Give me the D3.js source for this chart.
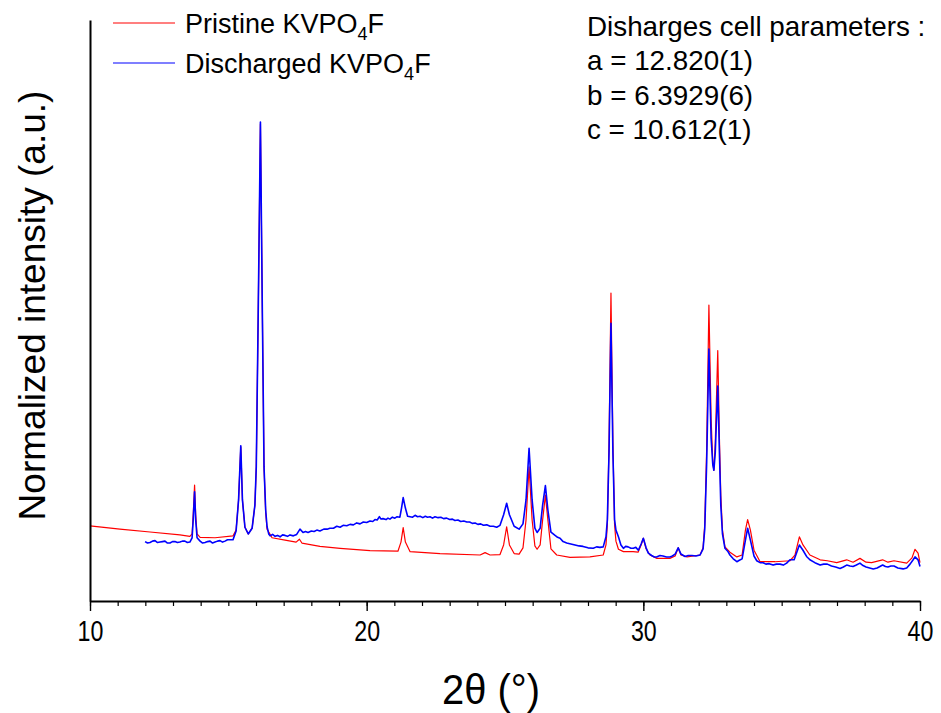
<!DOCTYPE html>
<html>
<head>
<meta charset="utf-8">
<script src="https://cdn.jsdelivr.net/npm/d3@7"></script>
<style>
  html, body { margin: 0; padding: 0; background: #fff; }
  svg { display: block; }
  text { font-family: "Liberation Sans", Arial, sans-serif; fill: #000; }
</style>
</head>
<body>
<svg id="chart" width="941" height="713"></svg>
<script>
// ---- Data: [2theta (deg), normalized intensity] ----
const pristinePattern = [
[10.00,0.157],[11.08,0.150],[12.17,0.144],[13.25,0.138],[13.61,0.135],[13.69,0.140],[13.73,0.180],[13.78,0.242],[13.82,0.180],[13.87,0.140],
[13.98,0.133],[14.52,0.132],[15.17,0.136],[15.28,0.148],[15.37,0.211],[15.45,0.322],[15.51,0.211],[15.60,0.154],[15.72,0.140],[15.86,0.152],
[15.96,0.200],[16.01,0.280],[16.08,0.600],[16.16,0.996],[16.23,0.600],[16.29,0.280],[16.35,0.185],[16.40,0.150],[16.58,0.132],[17.05,0.127],
[17.45,0.123],[17.57,0.129],[17.66,0.121],[18.31,0.114],[19.04,0.110],[20.12,0.105],[21.13,0.104],[21.24,0.123],[21.32,0.153],[21.40,0.123],
[21.57,0.103],[22.65,0.099],[24.10,0.096],[24.28,0.101],[24.46,0.096],[24.82,0.097],[24.95,0.117],[25.06,0.155],[25.16,0.117],[25.33,0.099],
[25.51,0.098],[25.65,0.111],[25.76,0.169],[25.87,0.280],[25.98,0.169],[26.08,0.115],[26.16,0.108],[26.27,0.117],[26.36,0.169],[26.46,0.221],
[26.55,0.169],[26.66,0.109],[26.87,0.096],[27.35,0.091],[28.07,0.092],[28.55,0.096],[28.65,0.117],[28.70,0.160],[28.76,0.330],[28.83,0.643],
[28.90,0.330],[28.96,0.160],[29.01,0.125],[29.10,0.108],[29.28,0.103],[29.63,0.103],[29.81,0.102],[29.92,0.117],[30.00,0.131],[30.10,0.109],
[30.24,0.096],[30.49,0.089],[30.96,0.089],[31.15,0.094],[31.26,0.111],[31.36,0.096],[31.58,0.092],[32.05,0.096],[32.16,0.111],[32.22,0.160],
[32.29,0.320],[32.37,0.618],[32.45,0.380],[32.51,0.290],[32.55,0.273],[32.60,0.330],[32.69,0.523],[32.75,0.340],[32.80,0.220],[32.86,0.148],
[32.95,0.113],[33.13,0.102],[33.38,0.092],[33.57,0.096],[33.69,0.148],[33.77,0.170],[33.87,0.148],[34.00,0.106],[34.22,0.082],[34.76,0.082],
[35.30,0.084],[35.48,0.096],[35.64,0.134],[35.77,0.117],[36.02,0.096],[36.39,0.086],[36.65,0.084],[36.99,0.080],[37.35,0.086],[37.58,0.081],
[37.83,0.089],[38.05,0.081],[38.25,0.080],[38.65,0.086],[38.84,0.081],[39.06,0.084],[39.52,0.079],[39.71,0.090],[39.82,0.108],[39.93,0.100],
[40.00,0.080]
];

const dischargedPattern = [
[11.99,0.124],[12.08,0.121],[12.17,0.122],[12.26,0.125],[12.35,0.126],[12.44,0.122],[12.53,0.123],[12.62,0.124],[12.71,0.125],[12.80,0.121],
[12.89,0.121],[12.98,0.124],[13.07,0.124],[13.16,0.122],[13.25,0.123],[13.34,0.125],[13.43,0.125],[13.52,0.122],[13.61,0.123],[13.69,0.132],
[13.73,0.169],[13.78,0.228],[13.82,0.169],[13.87,0.132],[13.98,0.125],[14.07,0.121],[14.16,0.122],[14.25,0.124],[14.34,0.125],[14.43,0.121],
[14.52,0.123],[14.61,0.125],[14.70,0.126],[14.79,0.123],[14.88,0.125],[14.97,0.128],[15.06,0.128],[15.17,0.128],[15.28,0.146],[15.37,0.211],
[15.45,0.324],[15.51,0.211],[15.60,0.154],[15.72,0.140],[15.86,0.152],[15.96,0.200],[16.01,0.280],[16.08,0.600],[16.16,1.000],[16.23,0.600],
[16.29,0.280],[16.35,0.190],[16.40,0.155],[16.46,0.140],[16.51,0.136],[16.60,0.139],[16.69,0.135],[16.78,0.137],[16.87,0.134],[16.96,0.138],
[17.05,0.137],[17.14,0.135],[17.23,0.138],[17.35,0.136],[17.47,0.139],[17.59,0.150],[17.70,0.143],[17.79,0.145],[17.88,0.143],[18.00,0.146],
[18.10,0.145],[18.20,0.148],[18.31,0.146],[18.45,0.150],[18.57,0.150],[18.67,0.152],[18.80,0.152],[18.92,0.156],[19.04,0.154],[19.15,0.158],
[19.28,0.157],[19.40,0.160],[19.52,0.159],[19.64,0.163],[19.76,0.161],[19.88,0.165],[20.00,0.164],[20.12,0.167],[20.22,0.166],[20.30,0.170],
[20.38,0.169],[20.46,0.176],[20.52,0.171],[20.59,0.172],[20.70,0.170],[20.77,0.173],[20.84,0.171],[20.93,0.175],[21.02,0.173],[21.10,0.176],
[21.20,0.175],[21.26,0.194],[21.32,0.216],[21.40,0.194],[21.48,0.177],[21.57,0.176],[21.66,0.175],[21.75,0.179],[21.84,0.176],[21.93,0.177],
[22.03,0.174],[22.12,0.177],[22.20,0.175],[22.29,0.176],[22.38,0.173],[22.47,0.176],[22.58,0.174],[22.68,0.175],[22.78,0.172],[22.89,0.173],
[23.00,0.170],[23.10,0.171],[23.19,0.168],[23.30,0.169],[23.40,0.166],[23.51,0.167],[23.62,0.165],[23.72,0.165],[23.82,0.162],[23.92,0.163],
[24.02,0.160],[24.12,0.161],[24.22,0.158],[24.34,0.159],[24.46,0.156],[24.58,0.156],[24.70,0.154],[24.82,0.158],[24.95,0.180],[25.06,0.204],
[25.16,0.180],[25.33,0.156],[25.51,0.150],[25.65,0.161],[25.76,0.211],[25.87,0.319],[25.98,0.211],[26.08,0.152],[26.16,0.143],[26.27,0.152],
[26.36,0.200],[26.46,0.241],[26.55,0.190],[26.66,0.144],[26.81,0.137],[26.90,0.133],[26.99,0.131],[27.10,0.124],[27.23,0.121],[27.38,0.119],
[27.53,0.117],[27.68,0.115],[27.82,0.114],[28.00,0.111],[28.19,0.110],[28.31,0.113],[28.43,0.112],[28.55,0.113],[28.65,0.134],[28.70,0.170],
[28.76,0.310],[28.83,0.580],[28.90,0.310],[28.96,0.170],[29.01,0.148],[29.10,0.134],[29.19,0.117],[29.28,0.110],[29.36,0.114],[29.45,0.113],
[29.55,0.110],[29.64,0.110],[29.73,0.112],[29.82,0.106],[29.92,0.119],[30.00,0.131],[30.10,0.111],[30.18,0.100],[30.30,0.095],[30.40,0.092],
[30.48,0.092],[30.60,0.095],[30.71,0.094],[30.84,0.092],[30.96,0.092],[31.05,0.094],[31.15,0.098],[31.26,0.111],[31.36,0.098],[31.51,0.093],
[31.62,0.095],[31.76,0.095],[31.90,0.094],[32.05,0.096],[32.16,0.109],[32.22,0.150],[32.29,0.290],[32.37,0.526],[32.45,0.340],[32.51,0.285],
[32.55,0.273],[32.60,0.310],[32.69,0.449],[32.75,0.310],[32.80,0.200],[32.86,0.140],[32.95,0.110],[33.05,0.104],[33.13,0.096],[33.25,0.088],
[33.38,0.082],[33.47,0.085],[33.57,0.088],[33.69,0.127],[33.77,0.152],[33.87,0.127],[34.00,0.094],[34.10,0.084],[34.22,0.080],[34.33,0.080],
[34.43,0.077],[34.55,0.078],[34.69,0.075],[34.81,0.077],[34.94,0.077],[35.06,0.075],[35.18,0.079],[35.30,0.086],[35.45,0.086],[35.64,0.117],
[35.77,0.106],[35.90,0.093],[36.02,0.086],[36.20,0.080],[36.39,0.075],[36.52,0.077],[36.65,0.077],[36.80,0.073],[36.95,0.071],[37.11,0.068],
[37.23,0.071],[37.35,0.075],[37.47,0.073],[37.58,0.072],[37.70,0.075],[37.83,0.079],[37.94,0.074],[38.05,0.071],[38.18,0.069],[38.31,0.067],
[38.45,0.069],[38.55,0.072],[38.65,0.075],[38.75,0.072],[38.84,0.071],[38.95,0.073],[39.06,0.073],[39.20,0.069],[39.39,0.067],[39.52,0.069],
[39.64,0.077],[39.74,0.085],[39.82,0.092],[39.93,0.086],[40.00,0.072]
];

const seriesNames = ["Pristine KVPO", "Discharged KVPO"];
const seriesColors = ["#ff0000", "#0000ff"];
const xMajorTicks = [10, 20, 30, 40];
const xMinorTicks = d3.range(10, 41, 1);
const annotationLines = ["Disharges cell parameters :", "a = 12.820(1)", "b = 6.3929(6)", "c = 10.612(1)"];
const xTitle = "2\u03B8 (\u00B0)";
const yTitle = "Normalized intensity (a.u.)";

// ---- Layout ----
const svg = d3.select("#chart");
const margin = { left: 90, right: 21, top: 20, bottom: 112 };
const W = 941, H = 713;
const x = d3.scaleLinear().domain([10, 40]).range([margin.left, W - margin.right]);
const y = d3.scaleLinear().domain([0, 1.213]).range([H - margin.bottom, margin.top]);

const line = d3.line().x(d => x(d[0])).y(d => y(d[1]));

svg.append("path").datum(pristinePattern)
  .attr("d", line).attr("fill", "none")
  .attr("stroke", seriesColors[0]).attr("stroke-width", 1.2).attr("stroke-linejoin", "round");
svg.append("path").datum(dischargedPattern)
  .attr("d", line).attr("fill", "none")
  .attr("stroke", seriesColors[1]).attr("stroke-width", 1.6).attr("stroke-linejoin", "round");

// ---- Axes ----
const yBottom = y(0);
const gxMinor = svg.append("g").attr("transform", `translate(0,${yBottom})`)
  .call(d3.axisBottom(x).tickValues(xMinorTicks).tickSize(5).tickSizeOuter(0).tickFormat(""));
gxMinor.select(".domain").remove();
gxMinor.selectAll("line").attr("stroke", "#000").attr("stroke-width", 1.2);

const gx = svg.append("g").attr("transform", `translate(0,${yBottom})`)
  .call(d3.axisBottom(x).tickValues(xMajorTicks).tickSize(10).tickSizeOuter(0).tickPadding(9).tickFormat(d3.format("d")));
gx.select(".domain").attr("stroke", "#000").attr("stroke-width", 2);
gx.selectAll("line").attr("stroke", "#000").attr("stroke-width", 1.4);
gx.selectAll("text")
  .style("font-size", "29px")
  .style("font-family", '"Liberation Sans", Arial, sans-serif')
  .attr("transform", "scale(0.8,1)");

const gy = svg.append("g").attr("transform", `translate(${margin.left},0)`)
  .call(d3.axisLeft(y).tickValues([]).tickSizeOuter(0));
gy.select(".domain").attr("stroke", "#000").attr("stroke-width", 2);

// ---- Titles ----
svg.append("text").attr("transform", "translate(491,704) scale(0.95,1)")
  .attr("text-anchor", "middle").style("font-size", "42px").text(xTitle);
svg.append("text")
  .attr("transform", `translate(45,${(margin.top + yBottom) / 2 - 5}) rotate(-90)`)
  .attr("text-anchor", "middle").style("font-size", "37px").text(yTitle);

// ---- Legend ----
const legend = svg.append("g");
seriesNames.forEach((name, i) => {
  const yy = 23 + i * 40;
  legend.append("line").attr("x1", 113).attr("x2", 175).attr("y1", yy).attr("y2", yy)
    .attr("stroke", seriesColors[i]).attr("stroke-width", 1.1);
  const t = legend.append("text").attr("x", 185).attr("y", yy + 10).style("font-size", "27px");
  t.append("tspan").text(name);
  t.append("tspan").attr("dy", 7).style("font-size", "18px").text("4");
  t.append("tspan").attr("dy", -7).text("F");
});

// ---- Annotation ----
annotationLines.forEach((s, i) => {
  svg.append("text").attr("x", 587).attr("y", 36 + i * 34.3)
    .style("font-size", "27.8px").text(s);
});
</script>
</body>
</html>
